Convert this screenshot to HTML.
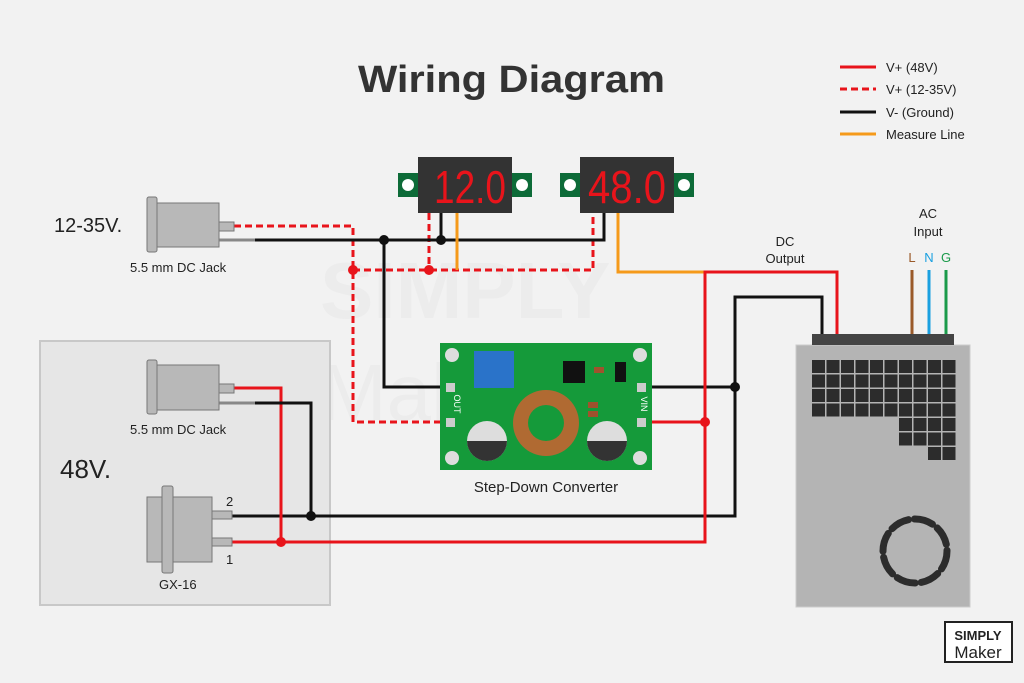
<!DOCTYPE html>
<html><head><meta charset="utf-8"><style>
html,body{margin:0;padding:0;background:#f2f2f2;}
svg{display:block;font-family:"Liberation Sans","DejaVu Sans",sans-serif;}
</style></head><body>
<svg width="1024" height="683" viewBox="0 0 1024 683" xmlns="http://www.w3.org/2000/svg">
<rect width="1024" height="683" fill="#f2f2f2"/>
<text x="320" y="318" font-size="80" font-weight="bold" fill="#ececec">SIMPLY</text>
<text x="320" y="420" font-size="80" fill="#ececec">Maker</text>
<text x="358" y="92" font-size="38" font-weight="bold" fill="#333" textLength="307" lengthAdjust="spacingAndGlyphs">Wiring Diagram</text>
<!-- legend -->
<g stroke-width="3">
<line x1="840" y1="67" x2="876" y2="67" stroke="#e8141b"/>
<line x1="840" y1="89" x2="876" y2="89" stroke="#e8141b" stroke-dasharray="7,4"/>
<line x1="840" y1="112" x2="876" y2="112" stroke="#111"/>
<line x1="840" y1="134" x2="876" y2="134" stroke="#f59a1a"/>
</g>
<g font-size="13" fill="#222">
<text x="886" y="72">V+ (48V)</text><text x="886" y="94">V+ (12-35V)</text>
<text x="886" y="117">V- (Ground)</text><text x="886" y="139">Measure Line</text>
</g>
<!-- left box -->
<rect x="40" y="341" width="290" height="264" fill="#e6e6e6" stroke="#c8c8c8" stroke-width="2"/>
<text x="54" y="232" font-size="20" fill="#222">12-35V.</text>
<text x="60" y="478" font-size="26" fill="#222">48V.</text>
<!-- wires -->
<g fill="none" stroke-width="3">
<polyline points="234,226 353,226 353,422 440,422" stroke="#e8141b" stroke-dasharray="7,4"/>
<polyline points="353,270 593,270 593,213" stroke="#e8141b" stroke-dasharray="7,4"/>
<line x1="429" y1="213" x2="429" y2="270" stroke="#e8141b" stroke-dasharray="7,4"/>
<polyline points="255,240 604,240 604,213" stroke="#111"/>
<polyline points="384,240 384,387 440,387" stroke="#111"/>
<line x1="441" y1="213" x2="441" y2="240" stroke="#111"/>
<polyline points="457,213 457,270" stroke="#f59a1a"/>
<polyline points="618,213 618,272 705,272" stroke="#f59a1a"/>
<polyline points="652,387 735,387" stroke="#111"/>
<polyline points="735,516 735,297 822,297 822,336" stroke="#111"/>
<polyline points="735,387 735,516 232,516" stroke="#111"/>
<polyline points="652,422 705,422" stroke="#e8141b"/>
<polyline points="705,542 705,272 837,272 837,336" stroke="#e8141b"/>
<polyline points="705,422 705,542 232,542" stroke="#e8141b"/>
<polyline points="234,388 281,388 281,542" stroke="#e8141b"/>
<polyline points="255,403 311,403 311,516" stroke="#111"/>
<line x1="219" y1="240" x2="255" y2="240" stroke="#888"/>
<line x1="219" y1="403" x2="255" y2="403" stroke="#888"/>
<line x1="912" y1="270" x2="912" y2="336" stroke="#9a5a2a"/>
<line x1="929" y1="270" x2="929" y2="336" stroke="#1aa0e0"/>
<line x1="946" y1="270" x2="946" y2="336" stroke="#1a9a4a"/>
</g>
<g>
<circle cx="353" cy="270" r="5" fill="#e8141b"/><circle cx="429" cy="270" r="5" fill="#e8141b"/>
<circle cx="384" cy="240" r="5" fill="#111"/><circle cx="441" cy="240" r="5" fill="#111"/>
<circle cx="735" cy="387" r="5" fill="#111"/><circle cx="705" cy="422" r="5" fill="#e8141b"/>
<circle cx="311" cy="516" r="5" fill="#111"/><circle cx="281" cy="542" r="5" fill="#e8141b"/>
</g>
<!-- jacks -->
<g fill="#b8b8b8" stroke="#777" stroke-width="1">
<rect x="147" y="197" width="10" height="55" rx="2"/><rect x="157" y="203" width="62" height="44"/>
<rect x="219" y="222" width="15" height="9"/>
<rect x="147" y="360" width="10" height="54" rx="2"/><rect x="157" y="365" width="62" height="45"/>
<rect x="219" y="384" width="15" height="9"/>
<rect x="147" y="497" width="65" height="65"/><rect x="162" y="486" width="11" height="87" rx="2"/>
<rect x="212" y="511" width="20" height="8"/><rect x="212" y="538" width="20" height="8"/>
</g>
<g font-size="13" fill="#222">
<text x="130" y="272">5.5 mm DC Jack</text><text x="130" y="434">5.5 mm DC Jack</text>
<text x="159" y="589">GX-16</text><text x="226" y="506">2</text><text x="226" y="564">1</text>
<text x="546" y="492" text-anchor="middle" font-size="15">Step-Down Converter</text>
<text x="785" y="246" text-anchor="middle">DC</text><text x="785" y="263" text-anchor="middle">Output</text>
<text x="928" y="218" text-anchor="middle">AC</text><text x="928" y="236" text-anchor="middle">Input</text>
<text x="912" y="262" text-anchor="middle" fill="#9a5a2a">L</text>
<text x="929" y="262" text-anchor="middle" fill="#1aa0e0">N</text>
<text x="946" y="262" text-anchor="middle" fill="#1a9a4a">G</text>
</g>
<!-- meters -->
<g>
<rect x="398" y="173" width="134" height="24" fill="#0d6b38"/>
<circle cx="408" cy="185" r="6" fill="#fff"/><circle cx="522" cy="185" r="6" fill="#fff"/>
<rect x="418" y="157" width="94" height="56" fill="#333"/>
<text x="434" y="203" font-size="46" fill="#e8141b" textLength="72" lengthAdjust="spacingAndGlyphs">12.0</text>
<rect x="560" y="173" width="134" height="24" fill="#0d6b38"/>
<circle cx="570" cy="185" r="6" fill="#fff"/><circle cx="684" cy="185" r="6" fill="#fff"/>
<rect x="580" y="157" width="94" height="56" fill="#333"/>
<text x="588" y="203" font-size="46" fill="#e8141b" textLength="78" lengthAdjust="spacingAndGlyphs">48.0</text>
</g>
<!-- converter -->
<g>
<rect x="440" y="343" width="212" height="127" fill="#159a3a"/>
<g fill="#ddd"><circle cx="452" cy="355" r="7"/><circle cx="640" cy="355" r="7"/><circle cx="452" cy="458" r="7"/><circle cx="640" cy="458" r="7"/></g>
<g fill="#ccc"><rect x="446" y="383" width="9" height="9"/><rect x="446" y="418" width="9" height="9"/><rect x="637" y="383" width="9" height="9"/><rect x="637" y="418" width="9" height="9"/></g>
<rect x="474" y="351" width="40" height="37" fill="#2a73c9"/>
<rect x="563" y="361" width="22" height="22" fill="#111"/>
<rect x="615" y="362" width="11" height="20" fill="#111"/>
<rect x="594" y="367" width="10" height="6" fill="#a0522d"/>
<rect x="588" y="402" width="10" height="6" fill="#a0522d"/><rect x="588" y="411" width="10" height="6" fill="#a0522d"/>
<circle cx="546" cy="423" r="33" fill="#b06a32"/><circle cx="546" cy="423" r="18" fill="#159a3a"/>
<circle cx="487" cy="441" r="20" fill="#ddd"/><path d="M467,441 A20,20 0 0 0 507,441 Z" fill="#333"/>
<circle cx="607" cy="441" r="20" fill="#ddd"/><path d="M587,441 A20,20 0 0 0 627,441 Z" fill="#333"/>
<text x="454" y="404" font-size="9" fill="#fff" transform="rotate(90 454 404)" text-anchor="middle">OUT</text>
<text x="641" y="404" font-size="9" fill="#fff" transform="rotate(90 641 404)" text-anchor="middle">VIN</text>
</g>
<!-- PSU -->
<rect x="796" y="345" width="174" height="262" fill="#b4b4b4" stroke="#ccc"/>
<rect x="812" y="334" width="142" height="11" fill="#444"/>
<g fill="#2c2c2c">
<rect x="812" y="360" width="13" height="13"/><rect x="826.5" y="360" width="13" height="13"/><rect x="841" y="360" width="13" height="13"/><rect x="855.5" y="360" width="13" height="13"/><rect x="870" y="360" width="13" height="13"/><rect x="884.5" y="360" width="13" height="13"/><rect x="899" y="360" width="13" height="13"/><rect x="913.5" y="360" width="13" height="13"/><rect x="928" y="360" width="13" height="13"/><rect x="942.5" y="360" width="13" height="13"/>
<rect x="812" y="374.5" width="13" height="13"/><rect x="826.5" y="374.5" width="13" height="13"/><rect x="841" y="374.5" width="13" height="13"/><rect x="855.5" y="374.5" width="13" height="13"/><rect x="870" y="374.5" width="13" height="13"/><rect x="884.5" y="374.5" width="13" height="13"/><rect x="899" y="374.5" width="13" height="13"/><rect x="913.5" y="374.5" width="13" height="13"/><rect x="928" y="374.5" width="13" height="13"/><rect x="942.5" y="374.5" width="13" height="13"/>
<rect x="812" y="389" width="13" height="13"/><rect x="826.5" y="389" width="13" height="13"/><rect x="841" y="389" width="13" height="13"/><rect x="855.5" y="389" width="13" height="13"/><rect x="870" y="389" width="13" height="13"/><rect x="884.5" y="389" width="13" height="13"/><rect x="899" y="389" width="13" height="13"/><rect x="913.5" y="389" width="13" height="13"/><rect x="928" y="389" width="13" height="13"/><rect x="942.5" y="389" width="13" height="13"/>
<rect x="812" y="403.5" width="13" height="13"/><rect x="826.5" y="403.5" width="13" height="13"/><rect x="841" y="403.5" width="13" height="13"/><rect x="855.5" y="403.5" width="13" height="13"/><rect x="870" y="403.5" width="13" height="13"/><rect x="884.5" y="403.5" width="13" height="13"/><rect x="899" y="403.5" width="13" height="13"/><rect x="913.5" y="403.5" width="13" height="13"/><rect x="928" y="403.5" width="13" height="13"/><rect x="942.5" y="403.5" width="13" height="13"/>
<rect x="899" y="418" width="13" height="13"/><rect x="913.5" y="418" width="13" height="13"/><rect x="928" y="418" width="13" height="13"/><rect x="942.5" y="418" width="13" height="13"/>
<rect x="899" y="432.5" width="13" height="13"/><rect x="913.5" y="432.5" width="13" height="13"/><rect x="928" y="432.5" width="13" height="13"/><rect x="942.5" y="432.5" width="13" height="13"/>
<rect x="928" y="447" width="13" height="13"/><rect x="942.5" y="447" width="13" height="13"/>
</g>
<circle cx="915" cy="551" r="32" fill="none" stroke="#2c2c2c" stroke-width="7" stroke-dasharray="19,6" stroke-linecap="round"/>
<!-- logo -->
<rect x="945" y="622" width="67" height="40" fill="#fff" stroke="#222" stroke-width="2"/>
<text x="978" y="640" text-anchor="middle" font-size="13" font-weight="bold" fill="#222">SIMPLY</text>
<text x="978" y="658" text-anchor="middle" font-size="17" fill="#222">Maker</text>
</svg>
</body></html>
